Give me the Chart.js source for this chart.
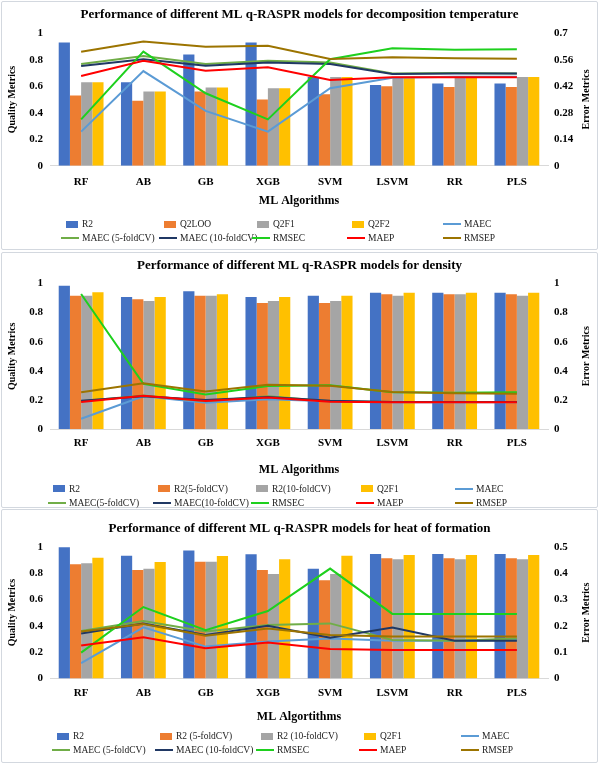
<!DOCTYPE html>
<html>
<head>
<meta charset="utf-8">
<title>ML q-RASPR performance</title>
<script src="https://cdn.jsdelivr.net/npm/chart.js@4.4.1/dist/chart.umd.min.js"></script>
<style>
  body { margin: 0; width: 599px; height: 764px; background: #fff; position: relative; overflow: hidden;
         font-family: 'Liberation Serif', 'Times New Roman', serif; }
  .panel { position: absolute; left: 1px; width: 595px; border: 1px solid #d3d8df; border-radius: 2px; }
  canvas { position: absolute; left: 0; }
  .item { position: absolute; white-space: nowrap; font-size: 9.5px; line-height: 12px; color: #222; }
  .sw { position: absolute; }
</style>
</head>
<body>
<div class="panel" style="top:1px;height:247px"></div>
<div class="panel" style="top:252px;height:254px"></div>
<div class="panel" style="top:509px;height:252px"></div>
<canvas id="c1" width="599" height="250" style="top:0"></canvas>
<canvas id="c2" width="599" height="254" style="top:252px"></canvas>
<canvas id="c3" width="599" height="253" style="top:509px"></canvas>
<div id="legends"></div>

<script>
// categories
const algorithms = ['RF', 'AB', 'GB', 'XGB', 'SVM', 'LSVM', 'RR', 'PLS'];

// tick labels
const qualityTicks = [0, 0.2, 0.4, 0.6, 0.8, 1];
const errTicksDT = [0, 0.14, 0.28, 0.42, 0.56, 0.7];
const errTicksDen = [0, 0.2, 0.4, 0.6, 0.8, 1];
const errTicksHOF = [0, 0.1, 0.2, 0.3, 0.4, 0.5];

// decomposition temperature
const dtR2     = [0.93, 0.63, 0.84, 0.93, 0.67, 0.61, 0.62, 0.62];
const dtQ2LOO  = [0.53, 0.49, 0.56, 0.50, 0.54, 0.60, 0.595, 0.595];
const dtQ2F1   = [0.63, 0.56, 0.59, 0.585, 0.67, 0.67, 0.67, 0.67];
const dtQ2F2   = [0.63, 0.56, 0.59, 0.585, 0.67, 0.67, 0.67, 0.67];
const dtMAEC   = [0.18, 0.50, 0.29, 0.18, 0.41, 0.465, 0.47, 0.47];
const dtMAEC5  = [0.538, 0.58, 0.538, 0.555, 0.545, 0.488, 0.49, 0.488];
const dtMAEC10 = [0.527, 0.563, 0.529, 0.545, 0.538, 0.485, 0.488, 0.488];
const dtRMSEC  = [0.245, 0.603, 0.383, 0.245, 0.563, 0.621, 0.613, 0.616];
const dtMAEP   = [0.474, 0.555, 0.502, 0.52, 0.453, 0.467, 0.467, 0.467];
const dtRMSEP  = [0.603, 0.656, 0.629, 0.634, 0.564, 0.573, 0.568, 0.566];

// density
const dnR2     = [0.985, 0.907, 0.946, 0.907, 0.916, 0.937, 0.937, 0.937];
const dnR2cv5  = [0.916, 0.891, 0.916, 0.866, 0.866, 0.926, 0.926, 0.926];
const dnR2cv10 = [0.916, 0.88, 0.916, 0.88, 0.88, 0.916, 0.926, 0.916];
const dnQ2F1   = [0.94, 0.907, 0.926, 0.907, 0.916, 0.937, 0.937, 0.937];
const dnMAEC   = [0.07, 0.225, 0.181, 0.205, 0.19, 0.183, 0.183, 0.183];
const dnMAEC5  = [0.19, 0.23, 0.19, 0.225, 0.19, 0.185, 0.185, 0.185];
const dnMAEC10 = [0.195, 0.225, 0.2, 0.22, 0.195, 0.185, 0.185, 0.185];
const dnRMSEC  = [0.928, 0.31, 0.237, 0.295, 0.30, 0.252, 0.25, 0.252];
const dnMAEP   = [0.185, 0.229, 0.192, 0.216, 0.188, 0.183, 0.183, 0.183];
const dnRMSEP  = [0.252, 0.314, 0.258, 0.304, 0.297, 0.254, 0.246, 0.243];

// heat of formation
const hfR2     = [0.995, 0.932, 0.972, 0.942, 0.833, 0.945, 0.945, 0.945];
const hfR2cv5  = [0.866, 0.823, 0.886, 0.823, 0.745, 0.912, 0.912, 0.912];
const hfR2cv10 = [0.874, 0.833, 0.886, 0.793, 0.793, 0.904, 0.904, 0.904];
const hfQ2F1   = [0.917, 0.884, 0.929, 0.904, 0.932, 0.937, 0.937, 0.937];
const hfMAEC   = [0.058, 0.194, 0.121, 0.14, 0.152, 0.143, 0.143, 0.146];
const hfMAEC5  = [0.18, 0.218, 0.178, 0.203, 0.209, 0.146, 0.143, 0.152];
const hfMAEC10 = [0.171, 0.209, 0.165, 0.2, 0.155, 0.193, 0.143, 0.143];
const hfRMSEC  = [0.098, 0.271, 0.183, 0.256, 0.417, 0.245, 0.245, 0.245];
const hfMAEP   = [0.125, 0.156, 0.115, 0.137, 0.112, 0.108, 0.108, 0.108];
const hfRMSEP  = [0.178, 0.207, 0.162, 0.19, 0.165, 0.159, 0.159, 0.159];

const barColors = ['#4472C4', '#ED7D31', '#A5A5A5', '#FFC000'];
const lineColors = ['#5B9BD5', '#70AD47', '#203864', '#1ED01E', '#FF0000', '#9C7400'];

Chart.defaults.font.family = "'Liberation Serif', 'Times New Roman', serif";
Chart.defaults.color = '#000';

// secondary axis title, reading bottom to top like the primary one
const rightTitle = {
  id: 'rightTitle',
  afterDraw(chart, args, o) {
    const ctx = chart.ctx, a = chart.chartArea;
    ctx.save();
    ctx.translate(o.x, (a.top + a.bottom) / 2);
    ctx.rotate(-Math.PI / 2);
    ctx.font = 'bold 10px "Liberation Serif", serif';
    ctx.fillStyle = '#000';
    ctx.textAlign = 'center';
    ctx.textBaseline = 'middle';
    ctx.fillText(o.text, 0, 0);
    ctx.restore();
  }
};

function fmt(v) { return String(+Number(v).toFixed(2)); }

function makeChart(id, p) {
  const datasets = [];
  p.bars.forEach((b, i) => datasets.push({
    type: 'bar', label: b[0], data: b[1], backgroundColor: barColors[i],
    yAxisID: 'y', order: 20, barPercentage: 1, categoryPercentage: 0.72
  }));
  p.lines.forEach((l, i) => datasets.push({
    type: 'line', label: l[0], data: l[1], borderColor: lineColors[i], backgroundColor: lineColors[i],
    borderWidth: 2, pointRadius: 0, tension: 0, yAxisID: 'y1', order: 10 - i
  }));

  const chart = new Chart(document.getElementById(id), {
    type: 'bar',
    data: { labels: algorithms, datasets: datasets },
    plugins: [rightTitle],
    options: {
      responsive: false,
      animation: false,
      devicePixelRatio: 1,
      layout: { padding: { left: 0, right: 0, top: 0, bottom: p.padBottom } },
      plugins: {
        legend: { display: false },
        tooltip: { enabled: false },
        title: {
          display: true, text: p.title, color: '#000',
          font: { size: 13, weight: 'bold' },
          padding: { top: p.tTop, bottom: p.tBot }
        },
        rightTitle: { text: 'Error Metrics', x: 586 }
      },
      scales: {
        x: {
          grid: { color: 'transparent', drawTicks: false },
          border: { display: true, color: '#d9d9d9' },
          ticks: { padding: p.xPad, color: '#000', font: { size: 11, weight: 'bold' } },
          title: { display: true, text: p.xTitle, color: '#000', font: { size: 12, weight: 'bold' },
                   padding: { top: 0, bottom: p.xTitlePad } },
          afterFit: s => { s.height = p.xHeight; }
        },
        y: {
          position: 'left', min: 0, max: 1,
          afterBuildTicks: s => { s.ticks = qualityTicks.map(v => ({ value: v })); },
          grid: { display: false, drawTicks: false },
          border: { display: false },
          ticks: { padding: 7, color: '#000', font: { size: 11, weight: 'bold' }, callback: fmt },
          title: { display: true, text: 'Quality Metrics', color: '#000', font: { size: 10, weight: 'bold' },
                   padding: { top: 6, bottom: 0 } },
          afterFit: s => { s.width = 50; }
        },
        y1: {
          position: 'right', min: 0, max: p.errTicks[p.errTicks.length - 1],
          afterBuildTicks: s => { s.ticks = p.errTicks.map(v => ({ value: v })); },
          grid: { display: false, drawTicks: false },
          border: { display: false },
          ticks: { padding: 6, color: '#000', font: { size: 11, weight: 'bold' }, callback: fmt },
          afterFit: s => { s.width = 51; }
        }
      }
    }
  });

  // Excel-like legend grid under the chart
  const holder = document.getElementById('legends');
  chart.data.datasets.forEach((ds, i) => {
    const x = p.legCols[i % 5];
    const y = p.legRows[Math.floor(i / 5)];
    const sw = document.createElement('div');
    sw.className = 'sw';
    sw.style.background = ds.type === 'bar' ? ds.backgroundColor : ds.borderColor;
    if (ds.type === 'bar') {
      sw.style.left = (x - 16) + 'px'; sw.style.top = (y - 3.5) + 'px';
      sw.style.width = '12px'; sw.style.height = '7px';
    } else {
      sw.style.left = (x - 21) + 'px'; sw.style.top = (y - 1) + 'px';
      sw.style.width = '18px'; sw.style.height = '2px';
    }
    const tx = document.createElement('div');
    tx.className = 'item';
    tx.style.left = x + 'px'; tx.style.top = (y - 6) + 'px';
    tx.textContent = ds.label;
    holder.appendChild(sw);
    holder.appendChild(tx);
  });
  return chart;
}

makeChart('c1', {
  title: 'Performance of different ML q-RASPR models for decomposition temperature',
  xTitle: 'ML Algorithms',
  tTop: 7.2, tBot: 10.5, padBottom: 39.3, xHeight: 45, xPad: 9.7, xTitlePad: 2.5,
  errTicks: errTicksDT,
  bars: [['R2', dtR2], ['Q2LOO', dtQ2LOO], ['Q2F1', dtQ2F1], ['Q2F2', dtQ2F2]],
  lines: [['MAEC', dtMAEC], ['MAEC (5-foldCV)', dtMAEC5], ['MAEC (10-foldCV)', dtMAEC10],
          ['RMSEC', dtRMSEC], ['MAEP', dtMAEP], ['RMSEP', dtRMSEP]],
  legCols: [82, 180, 273, 368, 464], legRows: [224, 238]
});

makeChart('c2', {
  title: 'Performance of different ML q-RASPR models for density',
  xTitle: 'ML Algorithms',
  tTop: 6.2, tBot: 9.7, padBottom: 27, xHeight: 50, xPad: 7.7, xTitlePad: 1.8,
  errTicks: errTicksDen,
  bars: [['R2', dnR2], ['R2(5-foldCV)', dnR2cv5], ['R2(10-foldCV)', dnR2cv10], ['Q2F1', dnQ2F1]],
  lines: [['MAEC', dnMAEC], ['MAEC(5-foldCV)', dnMAEC5], ['MAEC(10-foldCV)', dnMAEC10],
          ['RMSEC', dnRMSEC], ['MAEP', dnMAEP], ['RMSEP', dnRMSEP]],
  legCols: [69, 174, 272, 377, 476], legRows: [488.5, 502.5]
});

makeChart('c3', {
  title: 'Performance of different ML q-RASPR models for heat of formation',
  xTitle: 'ML Algortithms',
  tTop: 11.5, tBot: 10.6, padBottom: 35.5, xHeight: 48, xPad: 8.2, xTitlePad: 2.6,
  errTicks: errTicksHOF,
  bars: [['R2', hfR2], ['R2 (5-foldCV)', hfR2cv5], ['R2 (10-foldCV)', hfR2cv10], ['Q2F1', hfQ2F1]],
  lines: [['MAEC', hfMAEC], ['MAEC (5-foldCV)', hfMAEC5], ['MAEC (10-foldCV)', hfMAEC10],
          ['RMSEC', hfRMSEC], ['MAEP', hfMAEP], ['RMSEP', hfRMSEP]],
  legCols: [73, 176, 277, 380, 482], legRows: [736, 750]
});
</script>
</body>
</html>
